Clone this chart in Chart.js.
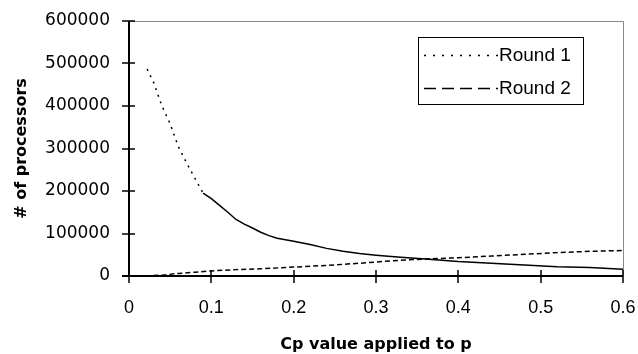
<!DOCTYPE html>
<html lang="en">
<head>
<meta charset="UTF-8">
<title>Processors vs Cp value</title>
<script src="https://cdn.jsdelivr.net/npm/chart.js@4.4.1/dist/chart.umd.min.js"></script>
<style>
  html, body { margin: 0; padding: 0; background: #fff; }
  #wrap { width: 638px; height: 354px; }
</style>
</head>
<body>
<div id="wrap"><canvas id="chart"></canvas></div>
<script>
/* ---------- data ---------- */
const round1Cp = [0.022, 0.03, 0.04, 0.05, 0.06, 0.07, 0.08, 0.09, 0.10, 0.11, 0.12, 0.13, 0.14, 0.15,
  0.16, 0.17, 0.18, 0.20, 0.22, 0.24, 0.26, 0.28, 0.30, 0.33, 0.36, 0.40, 0.44, 0.48, 0.52, 0.56, 0.60];
const round1Procs = [487000, 455000, 400000, 358000, 304000, 266000, 230000, 195000, 182000, 166000, 150000,
  133000, 122000, 113000, 103000, 95000, 89000, 82000, 74000, 65000, 58000, 53000, 49000, 44000, 40000,
  34000, 30000, 26000, 22000, 20000, 16000];

const round2Cp = [0.02, 0.04, 0.06, 0.08, 0.10, 0.13, 0.16, 0.20, 0.24, 0.28, 0.32, 0.36, 0.40, 0.44,
  0.48, 0.52, 0.56, 0.60];
const round2Procs = [0, 2000, 6000, 9000, 12000, 15000, 17000, 21000, 25000, 30000, 36000, 40000, 43000,
  47000, 51000, 55000, 58000, 60000];

const seriesNames = ["Round 1", "Round 2"];
const xTicks = [0, 0.1, 0.2, 0.3, 0.4, 0.5, 0.6];
const yTicks = [0, 100000, 200000, 300000, 400000, 500000, 600000];

const toPoints = (xs, ys) => xs.map((x, i) => ({ x: x, y: ys[i] }));

/* ---------- frame, crossing ticks and boxed legend ---------- */
const framePlugin = {
  id: "frame",
  beforeDatasetsDraw(chart) {
    const { ctx, chartArea: a } = chart;
    ctx.save();
    ctx.strokeStyle = "#8a8a8a";
    ctx.lineWidth = 1;
    ctx.beginPath();
    ctx.moveTo(a.left, a.top + 0.5);
    ctx.lineTo(a.right + 0.5, a.top + 0.5);
    ctx.lineTo(a.right + 0.5, a.bottom);
    ctx.stroke();
    ctx.restore();
  },
  afterDatasetsDraw(chart) {
    const { ctx, chartArea: a, scales } = chart;
    ctx.save();
    ctx.strokeStyle = "#000";
    ctx.lineWidth = 2;
    ctx.beginPath();
    ctx.moveTo(a.left, a.top);
    ctx.lineTo(a.left, a.bottom);
    ctx.moveTo(a.left - 7, a.bottom);
    ctx.lineTo(a.right, a.bottom);
    ctx.stroke();
    ctx.lineWidth = 1.5;
    ctx.beginPath();
    yTicks.forEach(v => {
      const py = Math.round(scales.y.getPixelForValue(v));
      ctx.moveTo(a.left - 7, py);
      ctx.lineTo(a.left + 6, py);
    });
    xTicks.forEach(v => {
      const px = Math.round(scales.x.getPixelForValue(v));
      ctx.moveTo(px, a.bottom - 6);
      ctx.lineTo(px, a.bottom + 7);
    });
    ctx.stroke();

    // legend box
    const bx = a.right - 205, by = a.top + 16, bw = 165, bh = 67;
    ctx.fillStyle = "#fff";
    ctx.fillRect(bx, by, bw, bh);
    ctx.lineWidth = 1;
    ctx.strokeRect(bx + 0.5, by + 0.5, bw, bh);
    const legendDash = [[2, 7], [12, 6]];
    chart.data.datasets.forEach((ds, i) => {
      const ly = by + 18 + i * 33;
      ctx.setLineDash(legendDash[i]);
      ctx.lineWidth = 1.5;
      ctx.beginPath();
      ctx.moveTo(bx + 6, ly + 0.5);
      ctx.lineTo(bx + 80, ly + 0.5);
      ctx.stroke();
      ctx.setLineDash([]);
      ctx.fillStyle = "#000";
      ctx.font = "19px 'Liberation Sans', Arial, sans-serif";
      ctx.textBaseline = "middle";
      ctx.textAlign = "left";
      ctx.fillText(ds.label, bx + 81, ly + 1);
    });
    ctx.restore();
  }
};

new Chart(document.getElementById("chart"), {
  type: "line",
  plugins: [framePlugin],
  data: {
    datasets: [
      {
        label: seriesNames[0],
        data: toPoints(round1Cp, round1Procs),
        borderColor: "#000",
        borderWidth: 1.5,
        pointRadius: 0,
        tension: 0,
        segment: {
          borderDash: ctx => (ctx.p0.parsed.x < 0.09 ? [2, 5] : [])
        }
      },
      {
        label: seriesNames[1],
        data: toPoints(round2Cp, round2Procs),
        borderColor: "#000",
        borderWidth: 1.5,
        borderDash: [5, 3],
        pointRadius: 0,
        tension: 0
      }
    ]
  },
  options: {
    responsive: true,
    maintainAspectRatio: false,
    animation: false,
    layout: { padding: { top: 21, right: 15, left: 12, bottom: 0 } },
    plugins: {
      legend: { display: false },
      tooltip: { enabled: false }
    },
    scales: {
      x: {
        type: "linear",
        min: 0,
        max: 0.6,
        afterBuildTicks: scale => { scale.ticks = xTicks.map(v => ({ value: v })); },
        afterFit: scale => {
          scale.height = 78;
          scale.paddingLeft = 0;
          scale.paddingRight = 0;
        },
        grid: { display: false, drawTicks: false },
        border: { display: false },
        ticks: {
          color: "#000",
          padding: 21,
          maxRotation: 0,
          font: { family: "'Liberation Sans', Arial, sans-serif", size: 18 },
          callback: v => String(v)
        },
        title: {
          display: true,
          text: "Cp value applied to p",
          color: "#000",
          padding: { top: 0, bottom: 0 },
          font: { family: "'DejaVu Sans', sans-serif", size: 16, weight: "bold" }
        }
      },
      y: {
        min: 0,
        max: 600000,
        afterBuildTicks: scale => { scale.ticks = yTicks.map(v => ({ value: v })); },
        afterFit: scale => {
          scale.width = 117;
          scale.paddingTop = 0;
          scale.paddingBottom = 0;
        },
        grid: { display: false, drawTicks: false },
        border: { display: false },
        ticks: {
          color: "#000",
          padding: 19,
          font: { family: "'DejaVu Sans', sans-serif", size: 17 },
          callback: v => String(v)
        },
        title: {
          display: true,
          text: "# of processors",
          color: "#000",
          padding: { top: 0, bottom: 0 },
          font: { family: "'DejaVu Sans', sans-serif", size: 16, weight: "bold" }
        }
      }
    }
  }
});
</script>
</body>
</html>
